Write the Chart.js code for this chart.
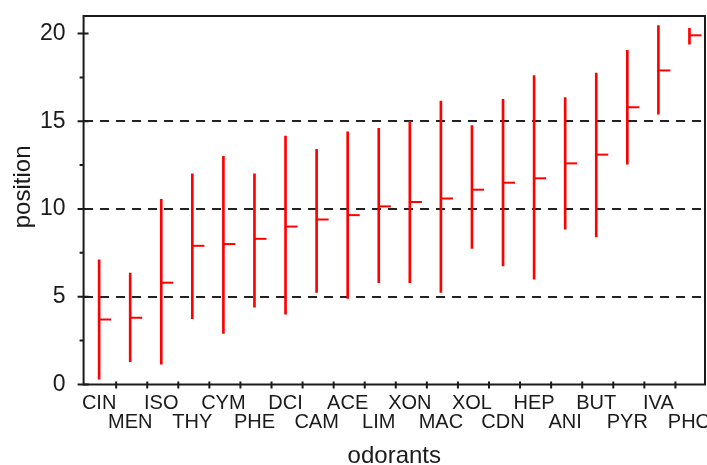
<!DOCTYPE html>
<html>
<head>
<meta charset="utf-8">
<script src="https://cdn.jsdelivr.net/npm/chart.js@4.4.1/dist/chart.umd.min.js"></script>
<style>
  html, body { margin: 0; padding: 0; background: #ffffff; }
  #wrap { width: 707px; height: 465px; }
</style>
</head>
<body>
<div id="wrap"><canvas id="c" width="707" height="465"></canvas></div>
<script>
// ---- data ----
const categories = ['CIN','MEN','ISO','THY','CYM','PHE','DCI','CAM','ACE','LIM',
                    'XON','MAC','XOL','CDN','HEP','ANI','BUT','PYR','IVA','PHO'];
const lowValues  = [0.3, 1.3, 1.15, 3.75, 2.9, 4.4, 4.0, 5.25, 4.9, 5.8,
                    5.8, 5.25, 7.75, 6.75, 6.0, 8.85, 8.4, 12.55, 15.4, 19.4];
const highValues = [7.1, 6.35, 10.55, 12.0, 13.0, 12.0, 14.15, 13.4, 14.4, 14.6,
                    15.0, 16.15, 14.75, 16.25, 17.6, 16.35, 17.75, 19.05, 20.45, 20.3];
const meanValues = [3.7, 3.8, 5.8, 7.9, 8.0, 8.3, 9.0, 9.4, 9.65, 10.15,
                    10.4, 10.6, 11.1, 11.5, 11.75, 12.6, 13.1, 15.8, 17.9, 19.9];
const yMajorTicks = [0, 5, 10, 15, 20];
const yMinorTicks = [2.5, 7.5, 12.5, 17.5];
const dashedLevels = [5, 10, 15];

// ---- derived structures ----
const xLabels = categories.map((c, i) => (i % 2 === 0 ? [c, ''] : ['', c]));
const ranges = categories.map((c, i) => [lowValues[i], highValues[i]]);

// mean marker: short horizontal stroke to the right of the point
const meanMark = document.createElement('canvas');
meanMark.width = 28; meanMark.height = 4;
(function () {
  const g = meanMark.getContext('2d');
  g.fillStyle = '#ff0000';
  g.fillRect(14, 1, 12, 2);
})();

const FONT = "'Liberation Sans', Arial, sans-serif";
const INK = '#1a1a1a';

const framePlugin = {
  id: 'frame',
  afterDraw(chart) {
    const { ctx, chartArea: a, scales } = chart;
    const x = scales.x, y = scales.y;
    ctx.save();
    ctx.strokeStyle = INK;
    ctx.lineWidth = 2;
    ctx.beginPath();
    ctx.moveTo(a.left, a.top); ctx.lineTo(a.right, a.top);
    ctx.lineTo(a.right, a.bottom); ctx.lineTo(a.left, a.bottom);
    ctx.closePath();
    ctx.stroke();
    ctx.beginPath();
    yMajorTicks.forEach(v => {
      const py = y.getPixelForValue(v);
      ctx.moveTo(a.left - 6, py); ctx.lineTo(a.left + 5, py);
    });
    yMinorTicks.forEach(v => {
      const py = y.getPixelForValue(v);
      ctx.moveTo(a.left - 4, py); ctx.lineTo(a.left, py);
    });
    for (let i = 0; i < categories.length - 1; i++) {
      const px = (x.getPixelForValue(i) + x.getPixelForValue(i + 1)) / 2 + 1.5;
      ctx.moveTo(px, a.bottom - 3); ctx.lineTo(px, a.bottom + 4);
    }
    ctx.stroke();
    ctx.restore();
  }
};

new Chart(document.getElementById('c'), {
  type: 'bar',
  data: {
    labels: xLabels,
    datasets: [
      {
        type: 'bar',
        data: ranges,
        backgroundColor: '#ff0000',
        borderWidth: 0,
        barThickness: 2,
        grouped: false
      },
      {
        type: 'line',
        data: meanValues,
        showLine: false,
        pointStyle: meanMark,
        pointRadius: 6,
        pointHoverRadius: 6
      }
    ]
  },
  options: {
    responsive: false,
    animation: false,
    events: [],
    layout: { autoPadding: false, padding: { top: 16, right: 2, left: 0, bottom: 0 } },
    plugins: { legend: { display: false }, tooltip: { enabled: false } },
    scales: {
      x: {
        type: 'category',
        offset: true,
        grid: { display: false, drawTicks: false },
        border: { display: false },
        ticks: {
          autoSkip: false,
          maxRotation: 0,
          minRotation: 0,
          padding: 10,
          color: INK,
          font: { family: FONT, size: 20, lineHeight: 0.94 }
        },
        title: {
          display: true,
          text: 'odorants',
          color: INK,
          font: { family: FONT, size: 24, lineHeight: 0.75 },
          padding: { top: 15, bottom: 0 }
        },
        afterFit(scale) {
          scale.paddingLeft = 0; scale.paddingRight = 0;
          scale.height -= scale.options.ticks.padding;
        }
      },
      y: {
        min: 0,
        max: 21,
        grid: {
          drawTicks: false,
          lineWidth: 2,
          color: (ctx) => (ctx.tick && dashedLevels.includes(ctx.tick.value) ? '#222222' : 'rgba(0,0,0,0)')
        },
        border: { display: false, dash: [9, 7] },
        ticks: {
          stepSize: 5,
          includeBounds: false,
          padding: 18,
          color: INK,
          font: { family: FONT, size: 23 },
          callback: (v) => (yMajorTicks.includes(v) ? String(v) : '')
        },
        title: {
          display: true,
          text: '    position',
          color: INK,
          font: { family: FONT, size: 24, lineHeight: 1 },
          padding: { top: 11, bottom: 5 }
        },
        afterFit(scale) {
          scale.paddingTop = 0; scale.paddingBottom = 0;
          scale.width -= scale.options.ticks.padding;
        }
      }
    }
  },
  plugins: [framePlugin]
});
</script>
</body>
</html>
